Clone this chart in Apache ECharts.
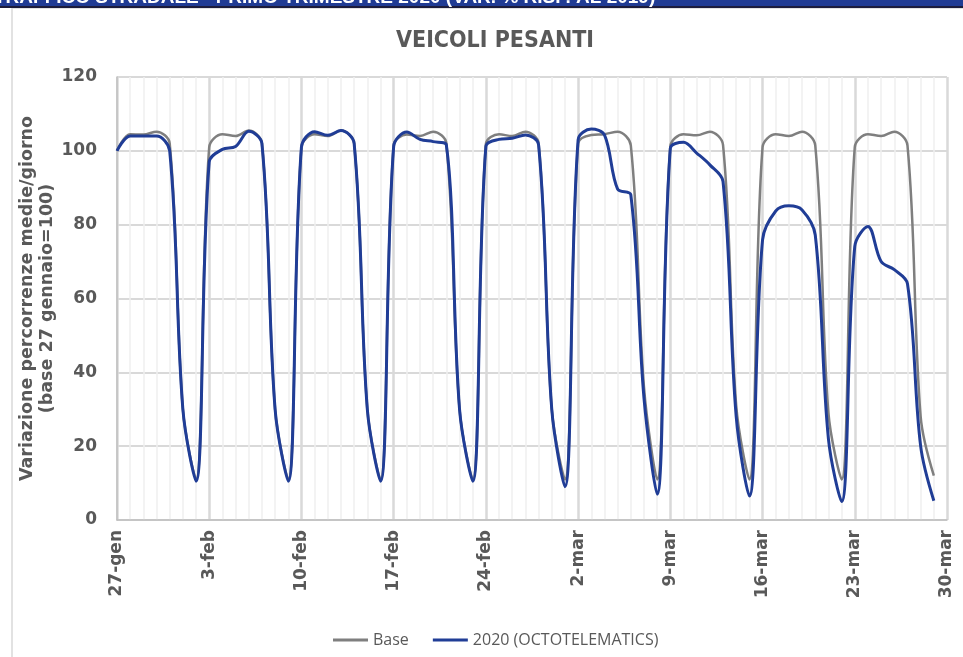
<!DOCTYPE html>
<html><head><meta charset="utf-8">
<script src="https://cdn.jsdelivr.net/npm/echarts@6/dist/echarts.min.js"></script>
<style>html,body{margin:0;padding:0;background:#fff}#c{width:963px;height:657px}</style>
</head><body><div id="c"></div>
<script>
// Day categories (27 Jan 2020 .. 30 Mar 2020)
const categories = [
  '27-gen','28-gen','29-gen','30-gen','31-gen','1-feb','2-feb',
  '3-feb','4-feb','5-feb','6-feb','7-feb','8-feb','9-feb',
  '10-feb','11-feb','12-feb','13-feb','14-feb','15-feb','16-feb',
  '17-feb','18-feb','19-feb','20-feb','21-feb','22-feb','23-feb',
  '24-feb','25-feb','26-feb','27-feb','28-feb','29-feb','1-mar',
  '2-mar','3-mar','4-mar','5-mar','6-mar','7-mar','8-mar',
  '9-mar','10-mar','11-mar','12-mar','13-mar','14-mar','15-mar',
  '16-mar','17-mar','18-mar','19-mar','20-mar','21-mar','22-mar',
  '23-mar','24-mar','25-mar','26-mar','27-mar','28-mar','29-mar',
  '30-mar'
];
const yTicks = [0, 20, 40, 60, 80, 100, 120];

const baseValues = [
  100, 104.5, 104.4, 105.2, 102, 30, 11,
  101, 104.5, 104, 105.5, 102, 30, 11,
  101, 104.5, 104, 105.5, 102, 30, 11,
  101.5, 104.4, 104, 105.2, 102, 30, 11,
  101.8, 104.5, 104, 105.2, 102, 30, 11,
  102, 104.3, 104.5, 105.2, 101.5, 36, 11,
  101.2, 104.5, 104.2, 105.2, 101.6, 31, 11,
  101, 104.5, 104, 105.2, 101.5, 29, 11,
  101, 104.5, 104, 105.2, 101.5, 28, 12
];
const octoValues = [
  100, 104, 104, 104, 100, 30, 10.5,
  97, 100.4, 101.2, 105.3, 102, 30, 10.5,
  101, 105.2, 104.2, 105.5, 102, 30, 10.5,
  101.2, 105.1, 103.1, 102.5, 101.6, 30, 10.5,
  101.2, 103.1, 103.4, 104.3, 101.6, 30, 9,
  103, 105.9, 104.3, 89.6, 88.1, 33, 7,
  100.7, 102.3, 99.4, 96.2, 91.7, 28, 6.5,
  75.9, 83.7, 85.1, 84, 77.2, 22, 5,
  74.1, 79.5, 70, 67.8, 64, 20, 5.2
];

const chart = echarts.init(document.getElementById('c'), null, {renderer: 'canvas'});
const lbl = {fontFamily: 'DejaVu Sans', fontWeight: 'bold', fontSize: 17, color: '#595959'};

chart.setOption({
  backgroundColor: '#ffffff',
  animation: false,
  title: {
    text: 'VEICOLI PESANTI', left: 391, top: 25,
    textStyle: {fontFamily: '"DejaVu Sans Condensed", "DejaVu Sans"', fontWeight: 'bold', fontSize: 23, color: '#595959'}
  },
  graphic: [
    {type: 'rect', shape: {x: 12, y: 8, width: 1000, height: 700}, style: {fill: 'none', stroke: '#d9d9d9', lineWidth: 1.5}, z: -1},
    {type: 'rect', shape: {x: 0, y: 0, width: 963, height: 7}, style: {fill: '#203b94'}},
    {type: 'rect', shape: {x: 0, y: 6, width: 963, height: 2}, style: {fill: '#1c1c3c'}},
    {type: 'text', x: -6, y: 7, style: {text: 'TRAFFICO STRADALE - PRIMO TRIMESTRE 2020 (VAR. % RISP. AL 2019)', fill: '#ffffff', font: 'bold 19px "Liberation Sans"', textVerticalAlign: 'bottom', textAlign: 'left'}}
  ],
  legend: {
    left: 328, top: 627, itemGap: 24, itemWidth: 35, itemHeight: 3, icon: 'rect',
    textStyle: {fontFamily: 'Open Sans', fontSize: 16, color: '#595959'},
    data: ['Base', '2020 (OCTOTELEMATICS)']
  },
  grid: {left: 117, right: 16, top: 77, bottom: 137, containLabel: false},
  xAxis: {
    type: 'value', min: 0, max: categories.length - 1, interval: 7,
    axisLine: {show: true, onZero: false, lineStyle: {color: '#bfbfbf', width: 1.5}},
    axisTick: {show: false},
    axisLabel: Object.assign({rotate: 90, margin: 10, formatter: v => categories[v] || ''}, lbl),
    splitLine: {show: true, lineStyle: {color: '#d9d9d9', width: 2.5}},
    minorTick: {show: false, splitNumber: 7},
    minorSplitLine: {show: true, lineStyle: {color: '#efefef', width: 1.5}}
  },
  yAxis: {
    type: 'value', min: yTicks[0], max: yTicks[yTicks.length - 1], interval: 20,
    name: 'Variazione percorrenze medie/giorno\n(base 27 gennaio=100)',
    nameLocation: 'middle', nameGap: 60, nameRotate: 90, nameMoveOverlap: false,
    nameTextStyle: {fontFamily: 'DejaVu Sans', fontWeight: 'bold', fontSize: 17.5, color: '#595959', lineHeight: 20},
    axisLine: {show: true, lineStyle: {color: '#bfbfbf', width: 1.5}},
    axisTick: {show: false},
    axisLabel: Object.assign({margin: 20}, lbl),
    splitLine: {show: true, lineStyle: {color: '#d9d9d9', width: 2}}
  },
  series: [
    {name: 'Base', type: 'line', smooth: 0.35, symbol: 'none',
     lineStyle: {color: '#7f7f7f', width: 2.5}, itemStyle: {color: '#7f7f7f'},
     data: baseValues.map((v, i) => [i, v])},
    {name: '2020 (OCTOTELEMATICS)', type: 'line', smooth: 0.35, symbol: 'none',
     lineStyle: {color: '#203d96', width: 3}, itemStyle: {color: '#203d96'},
     data: octoValues.map((v, i) => [i, v])}
  ]
});
</script>
</body></html>
